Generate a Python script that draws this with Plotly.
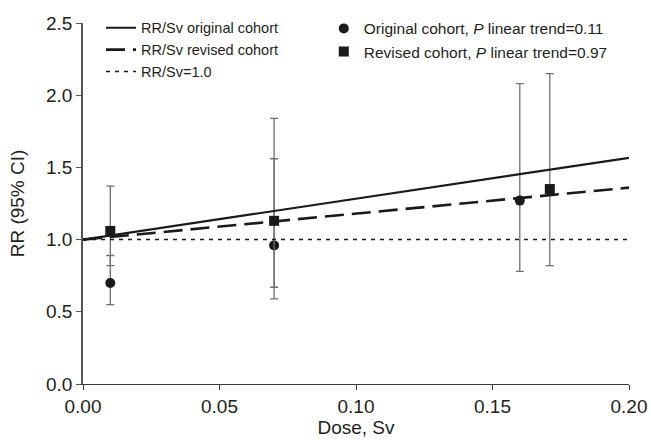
import plotly.graph_objects as go

# ---- data ----
dose_original = [0.01, 0.07, 0.16]
rr_original = [0.70, 0.96, 1.27]
ci_low_original = [0.55, 0.59, 0.78]
ci_high_original = [0.89, 1.56, 2.08]

dose_revised = [0.01, 0.07, 0.171]
rr_revised = [1.06, 1.13, 1.35]
ci_low_revised = [0.82, 0.67, 0.82]
ci_high_revised = [1.37, 1.84, 2.15]

line_dose = [0.0, 0.20]
line_rr_original = [1.0, 1.566]
line_rr_revised = [1.0, 1.36]
line_rr_null = [1.0, 1.0]

x_ticks = [0.00, 0.05, 0.10, 0.15, 0.20]
x_ticklabels = ["0.00", "0.05", "0.10", "0.15", "0.20"]
y_ticks = [0.0, 0.5, 1.0, 1.5, 2.0, 2.5]
y_ticklabels = ["0.0", "0.5", "1.0", "1.5", "2.0", "2.5"]

FONT = "Liberation Sans, Arial, sans-serif"
TXT = "#231f20"
ERRC = "#707070"

fig = go.Figure()

fig.add_trace(go.Scatter(
    x=dose_original, y=rr_original, mode="markers",
    marker=dict(symbol="circle", size=10, color="#1a1a1a"),
    error_y=dict(type="data", symmetric=False,
                 array=[h - v for h, v in zip(ci_high_original, rr_original)],
                 arrayminus=[v - l for l, v in zip(ci_low_original, rr_original)],
                 color=ERRC, thickness=1.3, width=4),
    name="Original cohort, <i>P</i> linear trend=0.11", legend="legend2"))

fig.add_trace(go.Scatter(
    x=dose_revised, y=rr_revised, mode="markers",
    marker=dict(symbol="square", size=10, color="#1a1a1a"),
    error_y=dict(type="data", symmetric=False,
                 array=[h - v for h, v in zip(ci_high_revised, rr_revised)],
                 arrayminus=[v - l for l, v in zip(ci_low_revised, rr_revised)],
                 color=ERRC, thickness=1.3, width=4),
    name="Revised cohort, <i>P</i> linear trend=0.97", legend="legend2"))

fig.add_trace(go.Scatter(
    x=line_dose, y=line_rr_original, mode="lines",
    line=dict(color="#1a1a1a", width=2.2),
    name="RR/Sv original cohort", legend="legend"))
fig.add_trace(go.Scatter(
    x=line_dose, y=line_rr_revised, mode="lines",
    line=dict(color="#1a1a1a", width=2.6, dash="19px,8px"),
    name="RR/Sv revised cohort", legend="legend"))
fig.add_trace(go.Scatter(
    x=line_dose, y=line_rr_null, mode="lines",
    line=dict(color="#1a1a1a", width=1.5, dash="4px,5px"),
    name="RR/Sv=1.0", legend="legend"))

fig.update_layout(
    width=651, height=440,
    margin=dict(l=83, r=22, t=23, b=56, autoexpand=False),
    paper_bgcolor="white", plot_bgcolor="white",
    font=dict(family=FONT, color=TXT, size=17),
    showlegend=True,
    legend=dict(x=0.033, y=1.031, xanchor="left", yanchor="top",
                bgcolor="rgba(0,0,0,0)", font=dict(size=14.5, color=TXT),
                tracegroupgap=0, traceorder="normal"),
    legend2=dict(x=0.441, y=1.031, xanchor="left", yanchor="top",
                 bgcolor="rgba(0,0,0,0)", font=dict(size=15.5, color=TXT),
                 traceorder="normal"),
    xaxis=dict(range=[0, 0.2], tickvals=x_ticks, ticktext=x_ticklabels,
               showgrid=False, zeroline=False, showline=True, automargin=False,
               linecolor="#3a3a3a", linewidth=1.3, ticks="outside",
               ticklen=5, tickcolor="#3a3a3a", tickwidth=1.2,
               tickfont=dict(size=19, color=TXT),
               title=dict(text="Dose, Sv", font=dict(size=19, color=TXT), standoff=4)),
    yaxis=dict(range=[0, 2.5], tickvals=y_ticks, ticktext=y_ticklabels,
               showgrid=False, zeroline=False, showline=True, automargin=False,
               linecolor="#555555", linewidth=1.5, ticks="outside",
               ticklen=5, tickcolor="#555555", tickwidth=1.2,
               tickfont=dict(size=19, color=TXT),
               title=dict(text="RR (95% CI)", font=dict(size=19, color=TXT), standoff=16)),
)

fig.write_html(
    "out.html",
    config={"displayModeBar": False},
    post_script="document.documentElement.style.margin='0';"
                "document.body.style.margin='0';"
                "document.body.style.overflow='hidden';",
)
